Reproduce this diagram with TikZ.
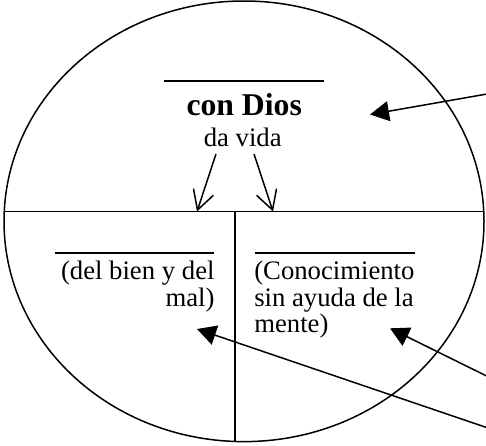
\documentclass[tikz,border=0pt]{standalone}
\usepackage{fontspec}
\setmainfont{Liberation Serif}
\usetikzlibrary{arrows.meta,shapes.geometric}
\begin{document}
\begin{tikzpicture}[x=1pt,y=-1pt,
  every node/.style={inner sep=0pt, outer sep=0pt},
  ln/.style={line width=1.5pt},
  txt/.style={font=\fontsize{26.7}{27}\selectfont},
  openarr/.style={ln, -{Straight Barb[length=19pt,width=21pt,line width=1.5pt]}},
  fillarr/.style={ln, -{Triangle[length=19pt,width=20pt]}}]
\useasboundingbox (0,0) rectangle (486,445);
% outline
\node[draw, ellipse, ln, minimum width=480pt, minimum height=440.6pt] (egg) at (244,221.3) {};
\coordinate (hl) at (4.2,211.5);
\coordinate (hr) at (483.8,211.5);
\coordinate (vt) at (235,211.5);
\coordinate (vb) at (235,441.4);
\draw[ln] (hl) -- (hr);
\draw[ln] (vt) -- (vb);
% top text
\node[anchor=center] (blank1) at (244,81) {\rule{160pt}{1.4pt}};
\node[anchor=base] (dios) at (244.2,115) {\fontsize{31.7}{33}\selectfont\bfseries con Dios};
\node[anchor=base, txt] (vida) at (242.7,146.7) {da vida};
% bottom left
\node[anchor=center] (blank2) at (134.5,253) {\rule{159pt}{1.4pt}};
\node[anchor=base east, txt] (bien1) at (214.5,279.5) {(del bien y del};
\node[anchor=base east, txt] (bien2) at (214.5,306) {mal)};
% bottom right
\node[anchor=center] (blank3) at (335,253) {\rule{160pt}{1.4pt}};
\node[anchor=base west, txt] (con1) at (254.3,279.5) {(Conocimiento};
\node[anchor=base west, txt] (con2) at (254.3,306) {sin ayuda de la};
\node[anchor=base west, txt] (con3) at (254.3,332.7) {mente)};
% arrows
\coordinate (a1s) at (216,154);
\coordinate (a1e) at (197,211.5);
\coordinate (a2s) at (254,154);
\coordinate (a2e) at (273,211.5);
\draw[openarr] (a1s) -- (a1e);
\draw[openarr] (a2s) -- (a2e);
\coordinate (a3s) at (487,94);
\coordinate (a3e) at (370,114.5);
\draw[fillarr] (a3s) -- (a3e);
\coordinate (a4s) at (488,428);
\coordinate (a4e) at (197,329);
\draw[fillarr] (a4s) -- (a4e);
\coordinate (a5s) at (488,376.7);
\coordinate (a5e) at (390,328.3);
\draw[fillarr] (a5s) -- (a5e);
\end{tikzpicture}
\end{document}
